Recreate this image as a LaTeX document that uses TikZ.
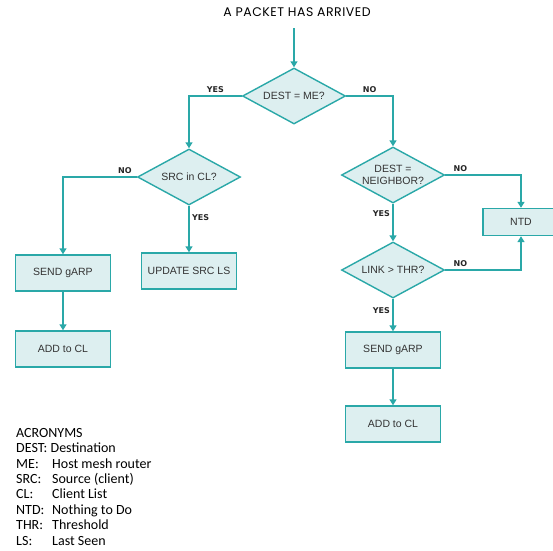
\documentclass[tikz,border=0pt]{standalone}
\usepackage{fontspec}
\setmainfont{Liberation Sans}
\newfontfamily\acrofont{Carlito}
\newfontfamily\titlefont[LetterSpace=4]{Poppins}
\newfontfamily\tagfont{DejaVu Sans}
\usetikzlibrary{arrows.meta,positioning,shapes.geometric}
\usepackage{xcolor}
\definecolor{flowline}{HTML}{2AA8A8}
\definecolor{flowfill}{HTML}{DDEFF0}
\definecolor{flowtext}{HTML}{333333}

\begin{document}
\begin{tikzpicture}[x=1pt, y=-1pt,
    box/.style={draw=flowline, fill=flowfill, line width=1.4pt, minimum width=95pt, minimum height=36pt, font=\fontsize{10.5}{12}\selectfont, text=flowtext},
    decision/.style={diamond, draw=flowline, fill=flowfill, line width=1.4pt, aspect=1.84, inner sep=0pt, minimum width=103pt, minimum height=56pt, align=center, font=\fontsize{10.5}{11.5}\selectfont, text=flowtext},
    flow/.style={draw=flowline, line width=1.4pt, -{Triangle[width=7pt,length=6pt]}},
    tag/.style={font=\tagfont\bfseries\fontsize{8}{9}\selectfont, text=black!85, inner sep=2.5pt}]
      \useasboundingbox (0,0) rectangle (553,550);

      % Start
      \node[font=\titlefont\fontsize{12.5}{14}\selectfont] (title) at (297,12) {A PACKET HAS ARRIVED};
      \coordinate (start) at (294,28);

      % Decisions
      \node[decision] (dme) at (294,96) {DEST = ME?};
      \node[decision] (src) at (189,177) {SRC in CL?};
      \node[decision] (dnb) at (393,175) {DEST =\\NEIGHBOR?};
      \node[decision] (lnk) at (393,270) {LINK > THR?};

      % Actions
      \node[box] (sendl) at (63,273) {SEND gARP};
      \node[box] (upd) at (189,271) {UPDATE SRC LS};
      \node[box] (addl) at (63,349) {ADD to CL};
      \node[box, minimum width=76pt, minimum height=27pt] (ntd) at (521,222) {NTD};
      \node[box] (sendr) at (393,350) {SEND gARP};
      \node[box] (addr) at (393,424) {ADD to CL};

      % Connectors
      \draw[flow] (start) -- (dme.north);
      \draw[flow] (dme.west) -| node[tag, above, pos=0.25] {YES} (src.north);
      \draw[flow] (dme.east) -| node[tag, above, pos=0.25] {NO} (dnb.north);
      \draw[flow] (src.west) -| node[tag, above, pos=0.08] {NO} (sendl.north);
      \draw[flow] (src.south) -- node[tag, right, pos=0.25] {YES} (upd.north);
      \draw[flow] (sendl) -- (addl);
      \draw[flow] (dnb.east) -| node[tag, above, pos=0.1] {NO} (ntd.north);
      \draw[flow] (dnb.south) -- node[tag, left, pos=0.25] {YES} (lnk.north);
      \draw[flow] (lnk.east) -| node[tag, above, pos=0.1] {NO} (ntd.south);
      \draw[flow] (lnk.south) -- node[tag, left, pos=0.37] {YES} (sendr.north);
      \draw[flow] (sendr) -- (addr);

      % Legend
      \node[anchor=north west, align=left, inner sep=0pt, text=black, font=\acrofont\fontsize{14}{15.4}\selectfont] (acro) at (16,428) {ACRONYMS\\
        DEST: Destination\\
        \makebox[36pt][l]{ME:}Host mesh router\\
        \makebox[36pt][l]{SRC:}Source (client)\\
        \makebox[36pt][l]{CL:}Client List\\
        \makebox[36pt][l]{NTD:}Nothing to Do\\
        \makebox[36pt][l]{THR:}Threshold\\
        \makebox[36pt][l]{LS:}Last Seen};
    \end{tikzpicture}
\end{document}
